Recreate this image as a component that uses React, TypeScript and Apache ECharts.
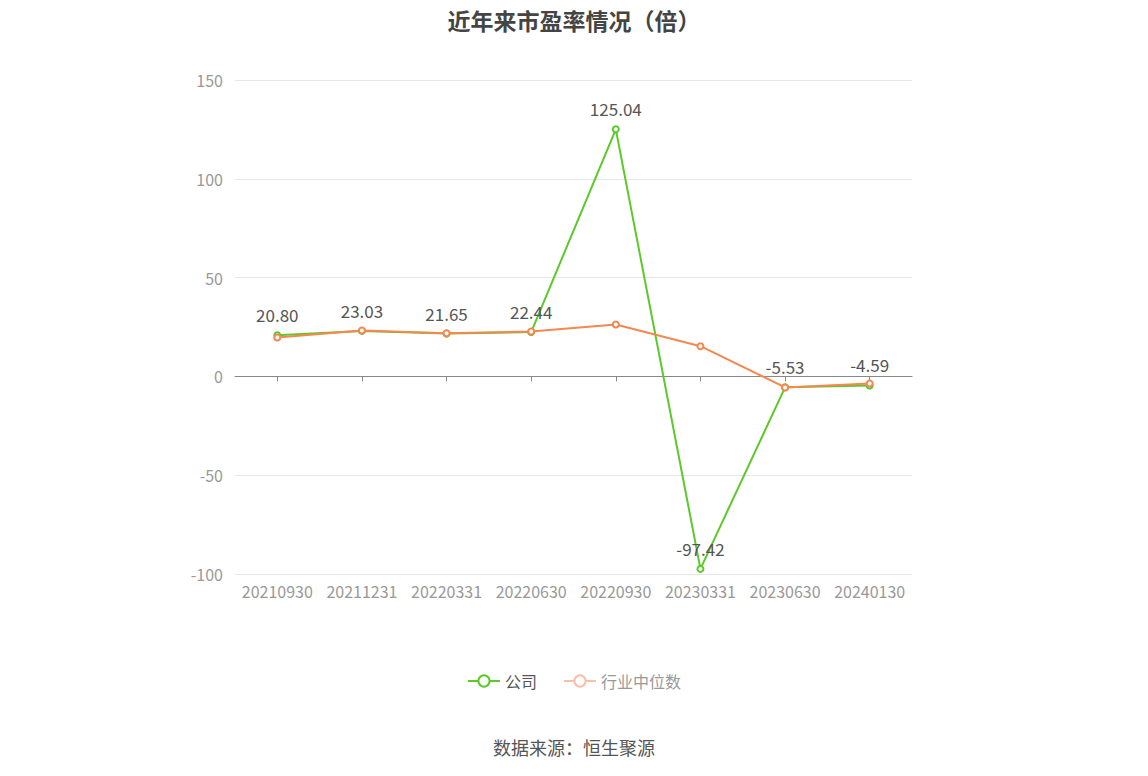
import React, { useEffect, useRef } from 'react';
import * as echarts from 'echarts';

// Report dates on the x axis
const periods = ['20210930', '20211231', '20220331', '20220630', '20220930', '20230331', '20230630', '20240130'];
// Company PE (labelled)
const companyPE = [20.8, 23.03, 21.65, 22.44, 125.04, -97.42, -5.53, -4.59];
// Industry median PE
const industryPE = [19.7, 23.2, 21.8, 22.7, 26.3, 15.3, -5.6, -3.6];

const FONT = '"Microsoft YaHei", "Noto Sans CJK SC", sans-serif';

export default function App() {
  const chartRef = useRef<HTMLDivElement>(null);

  useEffect(() => {
    if (!chartRef.current) return;
    document.body.style.margin = '0';
    const chart = echarts.init(chartRef.current, undefined, { renderer: 'svg' });

    const option: echarts.EChartsOption = {
      animation: false,
      textStyle: { fontFamily: FONT },
      title: {
        text: '近年来市盈率情况（倍）',
        left: 'center',
        top: 3,
        textStyle: { fontSize: 23, fontWeight: 'bold', color: '#444', fontFamily: FONT }
      },
      legend: {
        bottom: 82,
        left: 'center',
        itemWidth: 32,
        itemHeight: 14,
        itemGap: 26,
        textStyle: { fontSize: 16, color: '#555', fontFamily: FONT },
        data: [
          { name: '公司' },
          {
            name: '行业中位数',
            itemStyle: { color: '#fbbfa7', borderColor: '#fbbfa7', borderWidth: 2 },
            lineStyle: { color: '#fbbfa7', width: 2 },
            textStyle: { color: '#999' }
          }
        ]
      },
      grid: {
        left: 235,
        right: 236,
        top: 80,
        bottom: 202
      },
      xAxis: [
        {
          type: 'category',
          data: periods,
          boundaryGap: true,
          axisLine: { show: false, onZero: false },
          axisTick: { show: false },
          axisLabel: { color: '#999', fontSize: 16, margin: 9, interval: 0 }
        },
        {
          type: 'category',
          data: periods,
          position: 'bottom',
          axisLine: { onZero: true, lineStyle: { color: '#888' } },
          axisTick: { show: true, alignWithLabel: true, lineStyle: { color: '#888' } },
          axisLabel: { show: false }
        }
      ],
      yAxis: {
        type: 'value',
        min: -100,
        max: 150,
        interval: 50,
        axisLine: { show: false },
        axisTick: { show: false },
        axisLabel: { color: '#999', fontSize: 16, margin: 12 },
        splitLine: { lineStyle: { color: '#e6e6f0' } }
      },
      series: [
        {
          name: '公司',
          type: 'line',
          data: companyPE,
          symbol: 'emptyCircle',
          symbolSize: 6,
          lineStyle: { color: '#5cc92a', width: 2 },
          itemStyle: { color: '#5cc92a', borderWidth: 2 },
          label: {
            show: true,
            position: 'top',
            distance: 8,
            color: '#555',
            fontSize: 17,
            formatter: (p: any) => Number(p.value).toFixed(2)
          },
          z: 2
        },
        {
          name: '行业中位数',
          type: 'line',
          data: industryPE,
          symbol: 'emptyCircle',
          symbolSize: 6,
          lineStyle: { color: '#f5874f', width: 2 },
          itemStyle: { color: '#f5874f', borderWidth: 2 },
          z: 3
        }
      ],
      graphic: [
        {
          type: 'text',
          left: 'center',
          top: 738,
          style: {
            text: '数据来源：恒生聚源',
            fill: '#555',
            fontSize: 18,
            fontFamily: FONT
          }
        }
      ]
    };

    chart.setOption(option);

    const handleResize = () => chart.resize();
    window.addEventListener('resize', handleResize);

    return () => {
      window.removeEventListener('resize', handleResize);
      chart.dispose();
    };
  }, []);

  return <div ref={chartRef} style={{ width: '1148px', height: '776px' }} />;
}
